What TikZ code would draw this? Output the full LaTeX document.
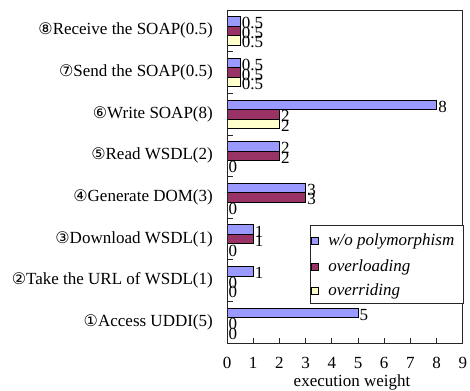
\documentclass[tikz,border=0pt]{standalone}
\usepackage{fontspec}
\setmainfont{Liberation Serif}
\newfontfamily\circfont{DejaVu Sans}
\usepackage{tikz}
\usetikzlibrary{positioning,calc}
\definecolor{wopoly}{HTML}{9999FF}
\definecolor{overload}{HTML}{993366}
\definecolor{override}{HTML}{FFFFCC}
\tikzset{
  lblfont/.style={font=\fontsize{17}{19}\selectfont},
  framelin/.style={line width=0.8pt,black!85},
  tickln/.style={line width=0.7pt,black!85},
  barbox/.style={draw=black,line width=0.6pt},
  vallbl/.style={lblfont,anchor=west,inner sep=1.5pt},
  catlbl/.style={lblfont,anchor=east,inner sep=0pt},
  axlbl/.style={lblfont,inner sep=0pt},
  legtxt/.style={font=\fontsize{17}{19}\selectfont\itshape,anchor=west,inner sep=0pt},
  swatch/.style={draw=black,line width=0.6pt,minimum size=7.5pt,inner sep=0pt},
}
\newcommand{\barh}{0.228}

\begin{document}
\begin{tikzpicture}[x=26.2pt,y=41.625pt]
  \useasboundingbox (-227pt,-47pt) rectangle (243pt,343pt);
  % bars: category/blue/maroon/yellow
  \foreach \k/\va/\vb/\vc in {1/5/0/0,2/1/0/0,3/1/1/0,4/3/3/0,
      5/2/2/0,6/8/2/2,7/0.5/0.5/0.5,8/0.5/0.5/0.5}{
    \foreach \v/\off/\col [count=\j] in {\va/1/wopoly,\vb/0/overload,\vc/-1/override}{
      \pgfmathsetmacro{\yc}{\k-0.5+\off*\barh}
      \ifdim\v pt>0pt
        \draw[barbox,fill=\col] (0,\yc-\barh/2) rectangle (\v,\yc+\barh/2);
      \fi
      \node[vallbl] (v\k-\j) at (\v,\yc-0.05) {\v};
    }
  }
  % category labels
  \foreach \k/\num/\txt in {1/①/Access UDDI(5),2/②/Take the URL of WSDL(1),
      3/③/Download WSDL(1),4/④/Generate DOM(3),5/⑤/Read WSDL(2),
      6/⑥/Write SOAP(8),7/⑦/Send the SOAP(0.5),8/⑧/Receive the SOAP(0.5)}{
    \node[catlbl] (c\k) at (-14pt,\k-0.5) {{\circfont\fontsize{16}{18}\selectfont\num}\txt};
  }
  % frame and ticks
  \draw[framelin] (0,0) rectangle (9,8);
  \foreach \k in {1,...,7}
    \draw[tickln] (0,\k) -- ++(6pt,0);
  \foreach \i in {1,...,8}
    \draw[tickln] (\i,0) -- ++(0,5pt);
  \foreach \i in {0,...,9}
    \node[axlbl] (t\i) at (\i,-20pt) {\i};
  \node[axlbl] (xlab) at (125pt,-39pt) {execution weight};
  % legend
  \draw[framelin,fill=white] (83pt,40pt) rectangle (236pt,118pt);
  \node[swatch,fill=wopoly] (s1) at (88pt,102pt) {};
  \node[swatch,fill=overload] (s2) at (88pt,76pt) {};
  \node[swatch,fill=override] (s3) at (88pt,52pt) {};
  \node[legtxt,right=9pt of s1] (l1) {w/o polymorphism};
  \node[legtxt,right=9pt of s2] (l2) {overloading};
  \node[legtxt,right=9pt of s3] (l3) {overriding};
\end{tikzpicture}
\end{document}
